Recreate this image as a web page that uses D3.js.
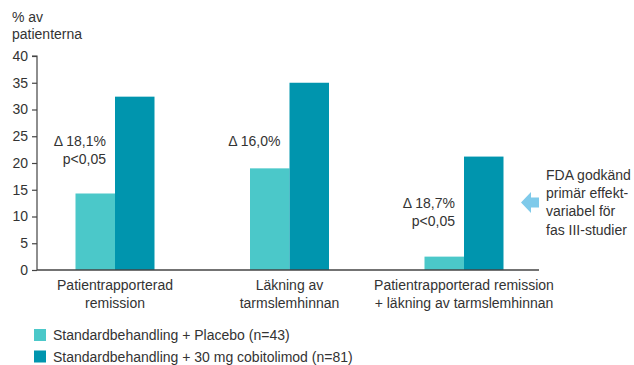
<!DOCTYPE html>
<html>
<head>
<meta charset="utf-8">
<script src="https://cdn.jsdelivr.net/npm/d3@7"></script>
<style>
  html, body { margin: 0; padding: 0; background: #fff; }
  svg text { font-family: "Liberation Sans", Arial, sans-serif; fill: #333; }
</style>
</head>
<body>
<svg id="chart" width="634" height="365"></svg>
<script>
// Outcome categories (two-line labels)
const categories = ["Patientrapporterad remission", "Läkning av tarmslemhinnan", "Patientrapporterad remission + läkning av tarmslemhinnan"];
const categoryLines = [
  ["Patientrapporterad", "remission"],
  ["Läkning av", "tarmslemhinnan"],
  ["Patientrapporterad remission", "+ läkning av tarmslemhinnan"]
];
const series = ["Standardbehandling + Placebo (n=43)", "Standardbehandling + 30 mg cobitolimod (n=81)"];
const placeboValues = [14.3, 19.0, 2.5];
const cobitolimodValues = [32.4, 35.0, 21.2];
const deltaLabels = [["Δ 18,1%", "p<0,05"], ["Δ 16,0%"], ["Δ 18,7%", "p<0,05"]];
const yTicks = [0, 5, 10, 15, 20, 25, 30, 35, 40];
const noteLines = ["FDA godkänd", "primär effekt-", "variabel för", "fas III-studier"];

const colors = ["#4BC8C9", "#0095AE"];

const svg = d3.select("#chart");

const y = d3.scaleLinear().domain([0, 40]).range([270, 56]);
const xCenter = d3.scalePoint().domain(categories).range([115, 464]);
const xSeries = d3.scaleBand().domain(series).range([-39.5, 39.5]).padding(0);

// Y axis
const yAxis = d3.axisLeft(y).tickValues(yTicks).tickSize(5).tickPadding(4);
const gy = svg.append("g").attr("transform", "translate(37,0)").call(yAxis);
gy.select(".domain").attr("stroke", "#444").attr("stroke-width", 1.2).attr("d", `M-5,${y(40)}H0V${y(0)}`);
gy.selectAll(".tick line").attr("stroke", "#444").attr("stroke-width", 1.2);
gy.selectAll(".tick text").attr("font-size", 14).style("fill", "#333")
  .attr("font-family", "Liberation Sans, Arial, sans-serif");

// Y axis title
svg.append("text").attr("x", 12).attr("y", 21.5).attr("font-size", 14).text("% av");
svg.append("text").attr("x", 12).attr("y", 38.5).attr("font-size", 14).text("patienterna");

// Bars
const rows = categories.map((c, i) => ({ cat: c, vals: [placeboValues[i], cobitolimodValues[i]] }));
const groups = svg.selectAll("g.group").data(rows).enter().append("g")
  .attr("class", "group")
  .attr("transform", d => `translate(${xCenter(d.cat)},0)`);
groups.selectAll("rect").data(d => d.vals.map((v, j) => ({ s: series[j], v, j })))
  .enter().append("rect")
  .attr("x", d => xSeries(d.s))
  .attr("width", xSeries.bandwidth())
  .attr("y", d => y(d.v))
  .attr("height", d => y(0) - y(d.v))
  .attr("fill", d => colors[d.j]);

// Baseline
svg.append("line").attr("x1", 37).attr("x2", 539).attr("y1", y(0)).attr("y2", y(0))
  .attr("stroke", "#444").attr("stroke-width", 1.5);

// Category labels
categoryLines.forEach((lines, i) => {
  const t = svg.append("text").attr("text-anchor", "middle").attr("font-size", 14);
  lines.forEach((ln, k) => {
    t.append("tspan").attr("x", xCenter(categories[i])).attr("y", 290 + k * 18).text(ln);
  });
});

// Difference annotations, right-aligned left of the placebo bar
const deltaTop = [146, 146, 208];
deltaLabels.forEach((lines, i) => {
  const xr = xCenter(categories[i]) - 9;
  lines.forEach((ln, k) => {
    svg.append("text").attr("x", xr).attr("y", deltaTop[i] + k * 18)
      .attr("text-anchor", "end").attr("font-size", 14).text(ln);
  });
});

// Side note with arrow
svg.append("path")
  .attr("d", "M521,202.5 L531,192 L531,197.5 L539,197.5 L539,207.5 L531,207.5 L531,213 Z")
  .attr("fill", "#7FCAEA");
noteLines.forEach((ln, k) => {
  svg.append("text").attr("x", 546).attr("y", 180 + k * 18.2).attr("font-size", 14).text(ln);
});

// Legend
const legend = svg.append("g");
series.forEach((s, i) => {
  legend.append("rect").attr("x", 34).attr("y", 329 + i * 21.5).attr("width", 12).attr("height", 12)
    .attr("fill", colors[i]);
  legend.append("text").attr("x", 53).attr("y", 340 + i * 21.5).attr("font-size", 14).text(s);
});
</script>
</body>
</html>
